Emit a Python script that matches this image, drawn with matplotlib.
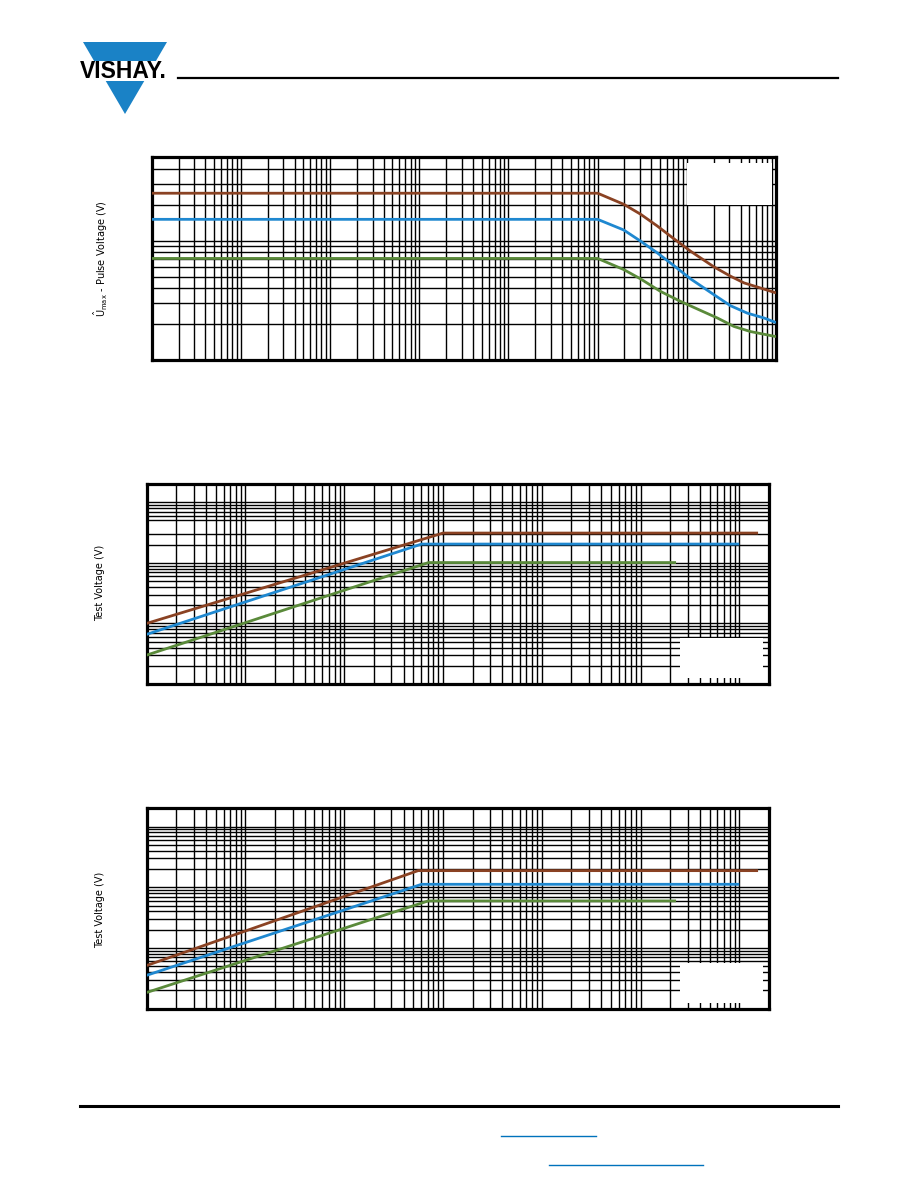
import matplotlib
matplotlib.use('Agg')
import matplotlib.pyplot as plt
from matplotlib.patches import Polygon, Rectangle
from matplotlib.lines import Line2D
from matplotlib.ticker import LogLocator, FixedLocator, NullFormatter

# ---------------- data ----------------
# Chart 1: pulse voltage vs pulse duration
c1_xlim = (1e-6, 10)
c1_ylim = (100, 5000)
c1_brown_x = [1e-6, 0.1, 0.196, 0.302, 0.465, 0.714, 1.10, 2.01, 3.09, 4.37, 6.18, 10]
c1_brown_y = [2500, 2500, 2020, 1670, 1330, 1040, 817, 604, 504, 443, 409, 365]
c1_blue_x = [1e-6, 0.1, 0.196, 0.302, 0.465, 0.714, 1.10, 2.01, 3.09, 4.77, 7.33, 10]
c1_blue_y = [1510, 1510, 1230, 993, 792, 619, 479, 353, 285, 247, 225, 206]
c1_green_x = [1e-6, 0.1, 0.196, 0.302, 0.506, 0.849, 1.43, 2.20, 3.38, 5.20, 10]
c1_green_y = [710, 710, 573, 479, 376, 310, 260, 225, 191, 173, 157]

# Chart 2: test voltage
c2_xlim = (1, 2e6)
c2_ylim = (10, 20000)
c2_brown_x = [1, 1000, 1.55e6]
c2_brown_y = [100, 3100, 3100]
c2_blue_x = [1, 607, 1.0e6]
c2_blue_y = [66, 2040, 2040]
c2_green_x = [1, 714, 2.29e5]
c2_green_y = [30, 1010, 1010]
c2_y_minor_skip = [4000]

# Chart 3: test voltage
c3_xlim = (1, 2e6)
c3_ylim = (10, 20000)
c3_brown_x = [1, 560, 1.55e6]
c3_brown_y = [51.5, 1880, 1880]
c3_blue_x = [1, 607, 1.0e6]
c3_blue_y = [35.5, 1120, 1120]
c3_green_x = [1, 708, 2.29e5]
c3_green_y = [18.5, 596, 596]

ylabel1 = r'$\hat{\mathrm{U}}_{\mathrm{max}}$ - Pulse Voltage (V)'
ylabel23 = 'Test Voltage (V)'

BROWN = '#8A4223'
BLUE = '#1F88D0'
GREEN = '#5A8A3A'
LOGO_BLUE = '#1A82C6'

# ---------------- figure ----------------
W, H = 918, 1188
fig = plt.figure(figsize=(W / 100, H / 100), dpi=100)


def fx(px):
    return px / W


def fy(py):
    return 1 - py / H


def make_axes(l, t, r, b):
    return fig.add_axes([fx(l), fy(b), (r - l) / W, (b - t) / H])


def minor_values(lo, hi, skip=()):
    vals = []
    d = lo
    while d < hi:
        for k in range(2, 10):
            v = round(k * d, 10)
            if lo < v < hi and v not in skip:
                vals.append(v)
        d *= 10
    return vals


def style(ax, xlim, ylim, yskip=()):
    ax.set_xscale('log')
    ax.set_yscale('log')
    ax.set_xlim(*xlim)
    ax.set_ylim(*ylim)
    ax.xaxis.set_major_locator(LogLocator(base=10, numticks=30))
    ax.xaxis.set_minor_locator(FixedLocator(minor_values(xlim[0], xlim[1])))
    ax.yaxis.set_major_locator(LogLocator(base=10, numticks=30))
    ax.yaxis.set_minor_locator(FixedLocator(minor_values(ylim[0], ylim[1], yskip)))
    ax.xaxis.set_major_formatter(NullFormatter())
    ax.xaxis.set_minor_formatter(NullFormatter())
    ax.yaxis.set_major_formatter(NullFormatter())
    ax.yaxis.set_minor_formatter(NullFormatter())
    ax.grid(True, which='both', color='black', lw=1.0)
    ax.tick_params(which='both', length=0)
    for s in ax.spines.values():
        s.set_linewidth(2.3)
        s.set_color('black')


def legend_box(ax, x0, y0, x1, y1):
    ax.add_patch(Rectangle((x0, y0), x1 - x0, y1 - y0, transform=ax.transAxes,
                           facecolor='white', edgecolor='none', zorder=2.2))


def curves(ax, series):
    for x, y, c in series:
        ax.plot(x, y, color=c, lw=2.0, solid_capstyle='butt', zorder=3)


# Chart 1
ax1 = make_axes(151.7, 157.3, 776, 360)
style(ax1, c1_xlim, c1_ylim)
curves(ax1, [(c1_brown_x, c1_brown_y, BROWN), (c1_blue_x, c1_blue_y, BLUE),
             (c1_green_x, c1_green_y, GREEN)])
legend_box(ax1, 0.858, 0.765, 0.993, 0.970)
fig.text(fx(101), fy(259), ylabel1, rotation=90, ha='center', va='center', fontsize=7)

# Chart 2
ax2 = make_axes(146.7, 484, 769, 684)
style(ax2, c2_xlim, c2_ylim, c2_y_minor_skip)
curves(ax2, [(c2_brown_x, c2_brown_y, BROWN), (c2_blue_x, c2_blue_y, BLUE),
             (c2_green_x, c2_green_y, GREEN)])
legend_box(ax2, 0.857, 0.0285, 0.990, 0.2285)
fig.text(fx(100), fy(583), ylabel23, rotation=90, ha='center', va='center', fontsize=7)

# Chart 3
ax3 = make_axes(146.7, 808.3, 769, 1008.7)
style(ax3, c3_xlim, c3_ylim)
curves(ax3, [(c3_brown_x, c3_brown_y, BROWN), (c3_blue_x, c3_blue_y, BLUE),
             (c3_green_x, c3_green_y, GREEN)])
legend_box(ax3, 0.857, 0.027, 0.990, 0.2295)
fig.text(fx(100), fy(910), ylabel23, rotation=90, ha='center', va='center', fontsize=7)

# Logo
fig.add_artist(Polygon([(fx(83), fy(42)), (fx(167), fy(42)), (fx(125), fy(114))],
                       closed=True, facecolor=LOGO_BLUE, edgecolor='none',
                       transform=fig.transFigure))
fig.add_artist(Rectangle((fx(76), fy(81)), (172 - 76) / W, 20 / H, facecolor='white',
                         edgecolor='none', transform=fig.transFigure))
fig.text(fx(123.5), fy(71.5), 'VISHAY.', ha='center', va='center', fontsize=16.5,
         fontweight='bold', family=['Liberation Sans', 'DejaVu Sans'])

# header / footer lines
fig.add_artist(Line2D([fx(178), fx(838)], [fy(78), fy(78)], lw=1.6, color='black',
                      transform=fig.transFigure))
fig.add_artist(Line2D([fx(80), fx(838)], [fy(1106), fy(1106)], lw=2.2, color='black',
                      transform=fig.transFigure))
fig.add_artist(Line2D([fx(501), fx(596)], [fy(1136), fy(1136)], lw=1.0, color='#0072BC',
                      transform=fig.transFigure))
fig.add_artist(Line2D([fx(549), fx(703)], [fy(1165), fy(1165)], lw=1.0, color='#0072BC',
                      transform=fig.transFigure))

fig.savefig('out.png', dpi=100)
